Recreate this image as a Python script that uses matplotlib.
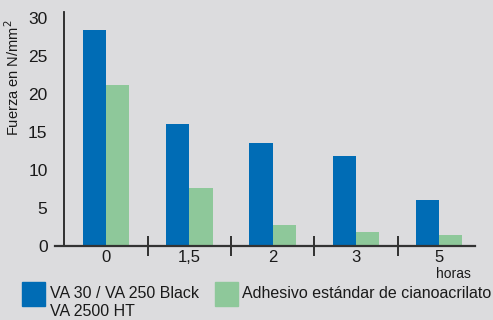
import matplotlib.pyplot as plt
import numpy as np

plt.rcParams['font.family'] = ['Liberation Sans', 'DejaVu Sans']

categories = ['0', '1,5', '2', '3', '5']
va_values = [28.4, 16.1, 13.5, 11.9, 6.0]
cyano_values = [21.2, 7.7, 2.8, 1.85, 1.45]
yticks = [0, 5, 10, 15, 20, 25, 30]

blue = '#006cb5'
green = '#8ec89a'
bg = '#dcdcde'

fig = plt.figure(figsize=(4.93, 3.2), dpi=100)
fig.patch.set_facecolor(bg)
ax = fig.add_axes([55 / 493, 74 / 320, 420 / 493, 234 / 320])
ax.set_facecolor('none')

x = np.arange(len(categories))
w = 0.28
ax.bar(x - w / 2, va_values, w, color=blue, zorder=2)
ax.bar(x + w / 2, cyano_values, w, color=green, zorder=2)

ax.set_xlim(-0.61, 4.43)
ax.set_ylim(0, 30.8)

for s in ['top', 'right']:
    ax.spines[s].set_visible(False)
ax.spines['left'].set_position(('data', -0.5))
ax.spines['left'].set_color('#222222')
ax.spines['bottom'].set_color('#333333')
ax.spines['left'].set_linewidth(1.3)
ax.spines['bottom'].set_linewidth(1.6)

# boundary ticks (major) and category labels (minor)
ax.set_xticks(x[:-1] + 0.5)
ax.set_xticklabels([])
ax.tick_params(axis='x', which='major', direction='inout', length=15,
               width=1.3, color='#222222')
ax.set_xticks(x, minor=True)
ax.set_xticklabels(categories, minor=True, fontsize=12, color='#1a1a1a')
ax.tick_params(axis='x', which='minor', length=0, pad=3)

ax.set_yticks(yticks)
ax.set_yticklabels([str(v) for v in yticks], fontsize=12.5, color='#1a1a1a')
ax.tick_params(axis='y', length=0, pad=12)

fig.text(13 / 493, 1 - 78 / 320, 'Fuerza en N/mm$^2$', rotation=90,
         fontsize=10.5, ha='center', va='center', color='#1a1a1a')
fig.text(453 / 493, 1 - 274 / 320, 'horas', fontsize=10,
         ha='center', va='center', color='#1a1a1a')

# legend
fig.patches.append(plt.Rectangle((22 / 493, 1 - 306 / 320), 23 / 493, 24 / 320,
                                 transform=fig.transFigure, color=blue))
fig.text(50 / 493, 1 - 294 / 320, 'VA 30 / VA 250 Black', fontsize=11.5,
         ha='left', va='center', color='#1a1a1a')
fig.text(50 / 493, 1 - 312 / 320, 'VA 2500 HT', fontsize=11.5,
         ha='left', va='center', color='#1a1a1a')
fig.patches.append(plt.Rectangle((215 / 493, 1 - 306 / 320), 23 / 493, 24 / 320,
                                 transform=fig.transFigure, color=green))
fig.text(242 / 493, 1 - 294 / 320, 'Adhesivo estándar de cianoacrilato',
         fontsize=11.5, ha='left', va='center', color='#1a1a1a')

fig.savefig('out.png', dpi=100, facecolor=bg)
